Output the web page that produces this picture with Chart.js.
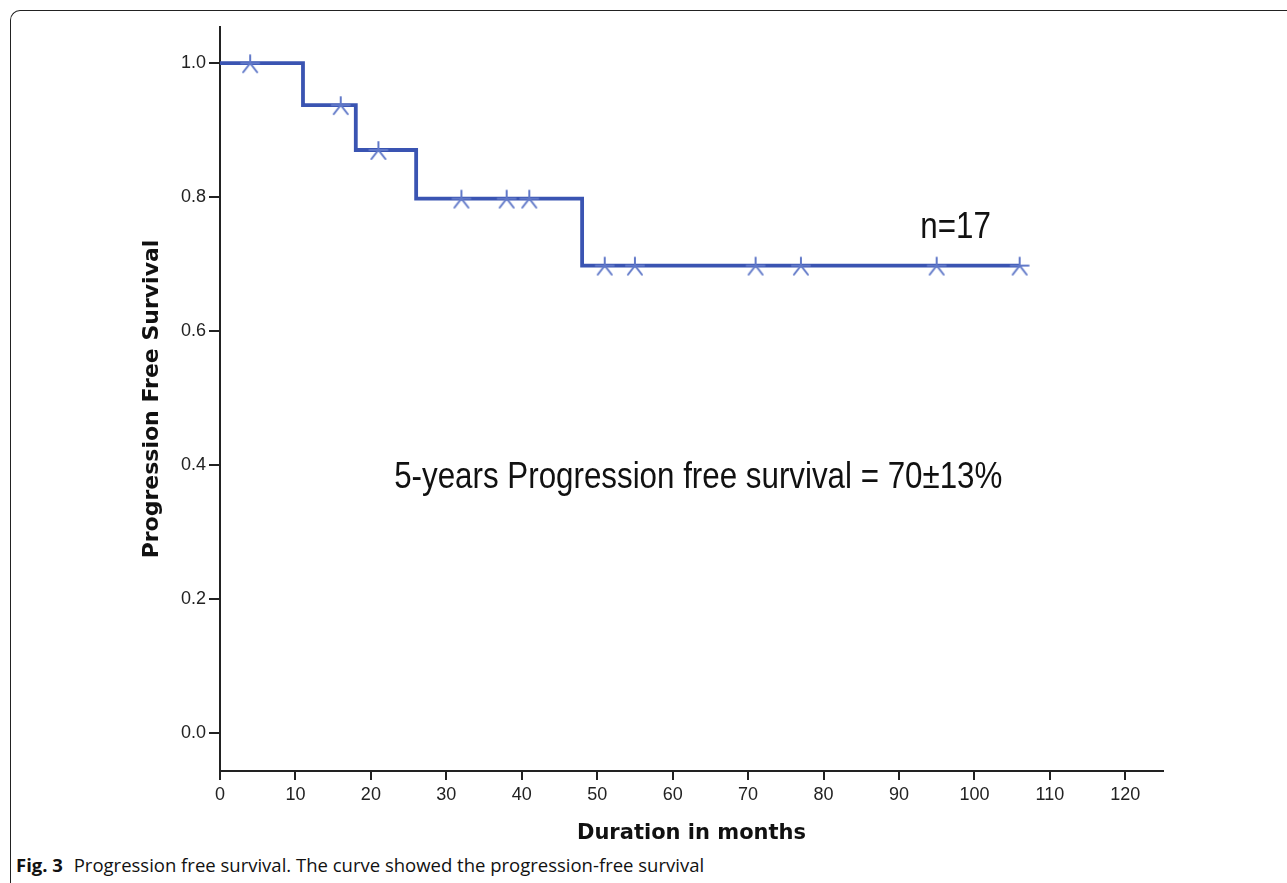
<!DOCTYPE html>
<html>
<head>
<meta charset="utf-8">
<script src="https://cdn.jsdelivr.net/npm/chart.js@4.4.0/dist/chart.umd.min.js"></script>
<style>
  html, body { margin: 0; padding: 0; background: #fff; }
  body { width: 1287px; height: 883px; position: relative; overflow: hidden; }
  #frame {
    position: absolute; left: 10px; top: 10px; width: 1300px; height: 900px;
    border-top: 1.5px solid #222; border-left: 1.5px solid #222;
    border-top-left-radius: 10px; box-sizing: border-box;
  }
  #canvas { position: absolute; left: 0; top: 0; }
  #caption {
    position: absolute; left: 16px; top: 852px;
    font-family: "Open Sans", "Noto Sans", sans-serif; font-size: 18.5px; color: #111;
    white-space: nowrap;
  }
  #caption b { margin-right: 6px; }
</style>
</head>
<body>
<div id="frame"></div>
<canvas id="canvas" width="1287" height="850"></canvas>
<div id="caption"><b>Fig. 3</b> Progression free survival. The curve showed the progression-free survival</div>
<script>
// step curve: event times and survival after each event
var stepMonths = [0, 11, 18, 26, 48, 106];
var stepSurvival = [1.0, 0.9375, 0.8705, 0.798, 0.698, 0.698];
// censored observations
var censorMonths = [4, 16, 21, 32, 38, 41, 51, 55, 71, 77, 95, 106];
var censorSurvival = [1.0, 0.9375, 0.8705, 0.798, 0.798, 0.798, 0.698, 0.698, 0.698, 0.698, 0.698, 0.698];
var xTicks = [0, 10, 20, 30, 40, 50, 60, 70, 80, 90, 100, 110, 120];
var yTicks = [0.0, 0.2, 0.4, 0.6, 0.8, 1.0];

var lineColor = 'rgb(58, 84, 178)';
var markColor = 'rgb(96, 120, 200)';
var sans = '"Liberation Sans", Arial, sans-serif';
var boldFont = '"DejaVu Sans", Verdana, sans-serif';

// censor mark: vertical stem up, two legs down, short horizontal bar
var mark = document.createElement('canvas');
mark.width = 24; mark.height = 24;
(function() {
    var c = mark.getContext('2d');
    c.strokeStyle = markColor;
    c.lineWidth = 2;
    c.lineCap = 'round';
    c.beginPath();
    c.moveTo(12, 12); c.lineTo(12, 4);
    c.moveTo(12, 12); c.lineTo(5, 21);
    c.moveTo(12, 12); c.lineTo(19, 21);
    c.moveTo(3, 12); c.lineTo(21, 12);
    c.stroke();
})();

var stepData = stepMonths.map(function(m, i) { return {x: m, y: stepSurvival[i]}; });
var censorData = censorMonths.map(function(m, i) { return {x: m, y: censorSurvival[i]}; });

// condensed text, like the narrow font of the original
function narrowText(ctx, text, x, y) {
    ctx.save();
    ctx.translate(x, y);
    ctx.scale(0.87, 1);
    ctx.fillText(text, 0, 0);
    ctx.restore();
}

var notes = {
    id: 'notes',
    afterDatasetsDraw: function(chart) {
        var ctx = chart.ctx, xs = chart.scales.x, ys = chart.scales.y;
        ctx.save();
        ctx.fillStyle = '#111';
        ctx.textAlign = 'center';
        ctx.textBaseline = 'middle';
        ctx.font = '36px ' + sans;
        narrowText(ctx, 'n=17', xs.getPixelForValue(97.5), ys.getPixelForValue(0.754));
        narrowText(ctx, '5-years Progression free survival = 70\u00b113%', xs.getPixelForValue(63.4), ys.getPixelForValue(0.381));
        ctx.restore();
    }
};

window.onload = function() {
    var ctx = document.getElementById('canvas').getContext('2d');
    window.myChart = new Chart(ctx, {
        type: 'scatter',
        data: {
            datasets: [{
                type: 'line',
                data: stepData,
                stepped: 'before',
                borderColor: lineColor,
                borderWidth: 3.8,
                pointRadius: 0,
                fill: false,
                order: 2
            }, {
                data: censorData,
                pointStyle: mark,
                pointRadius: 12,
                showLine: false,
                order: 1
            }]
        },
        options: {
            responsive: false,
            animation: false,
            layout: { padding: { top: 27, right: 124, left: 0, bottom: 0 } },
            plugins: { legend: { display: false }, tooltip: { enabled: false } },
            scales: {
                x: {
                    type: 'linear',
                    min: 0,
                    max: 125,
                    afterBuildTicks: function(s) { s.ticks = xTicks.map(function(v) { return {value: v}; }); },
                    afterFit: function(s) { s.height = 79; },
                    grid: { drawOnChartArea: false, tickLength: 9, color: '#222', lineWidth: 2 },
                    border: { display: true, color: '#222', width: 2 },
                    ticks: { color: '#222', padding: 4, font: { family: sans, size: 18 } },
                    title: {
                        display: true,
                        text: 'Duration in months',
                        color: '#111',
                        font: { family: boldFont, size: 21, weight: 'bold' },
                        padding: { top: 0, bottom: 4 }
                    }
                },
                y: {
                    min: -0.056,
                    max: 1.054,
                    afterBuildTicks: function(s) { s.ticks = yTicks.map(function(v) { return {value: v}; }); },
                    afterFit: function(s) { s.width = 220; },
                    grid: { drawOnChartArea: false, tickLength: 11, color: '#222', lineWidth: 2 },
                    border: { display: true, color: '#222', width: 2 },
                    ticks: {
                        color: '#222', padding: 3, font: { family: sans, size: 18 },
                        callback: function(v) { return v.toFixed(1); }
                    },
                    title: {
                        display: true,
                        text: 'Progression Free Survival',
                        color: '#111',
                        font: { family: boldFont, size: 22, weight: 'bold' },
                        padding: { top: 139, bottom: 0 }
                    }
                }
            }
        },
        plugins: [notes]
    });
};
</script>
</body>
</html>
